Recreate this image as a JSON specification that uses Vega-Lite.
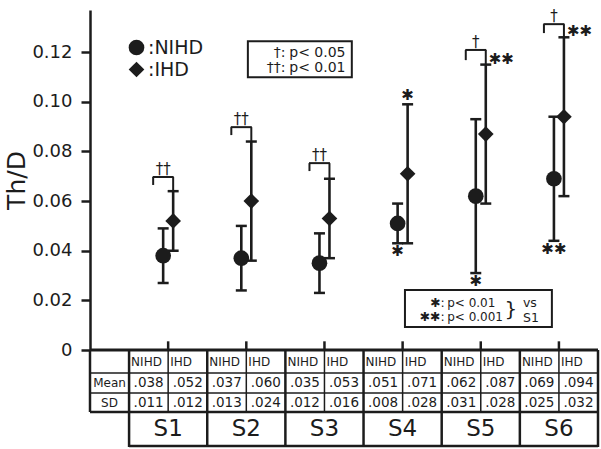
{
  "$schema": "https://vega.github.io/schema/vega-lite/v6.json",
  "background": "white",
  "autosize": "none",
  "width": 508,
  "height": 340,
  "padding": {"left": 90, "top": 10, "right": 3, "bottom": 99},
  "config": {"view": {"stroke": null}, "font": "DejaVu Sans", "text": {"color": "#1c1c1c", "font": "DejaVu Sans"}},
  "datasets": {
    "stats": [
      {"g": "S1", "s": "NIHD", "mean": 0.038, "sd": 0.011, "lo": 0.027, "hi": 0.049, "mt": ".038", "st": ".011"},
      {"g": "S1", "s": "IHD", "mean": 0.052, "sd": 0.012, "lo": 0.040, "hi": 0.064, "mt": ".052", "st": ".012"},
      {"g": "S2", "s": "NIHD", "mean": 0.037, "sd": 0.013, "lo": 0.024, "hi": 0.050, "mt": ".037", "st": ".013"},
      {"g": "S2", "s": "IHD", "mean": 0.060, "sd": 0.024, "lo": 0.036, "hi": 0.084, "mt": ".060", "st": ".024"},
      {"g": "S3", "s": "NIHD", "mean": 0.035, "sd": 0.012, "lo": 0.023, "hi": 0.047, "mt": ".035", "st": ".012"},
      {"g": "S3", "s": "IHD", "mean": 0.053, "sd": 0.016, "lo": 0.037, "hi": 0.069, "mt": ".053", "st": ".016"},
      {"g": "S4", "s": "NIHD", "mean": 0.051, "sd": 0.008, "lo": 0.043, "hi": 0.059, "mt": ".051", "st": ".008"},
      {"g": "S4", "s": "IHD", "mean": 0.071, "sd": 0.028, "lo": 0.043, "hi": 0.099, "mt": ".071", "st": ".028"},
      {"g": "S5", "s": "NIHD", "mean": 0.062, "sd": 0.031, "lo": 0.031, "hi": 0.093, "mt": ".062", "st": ".031"},
      {"g": "S5", "s": "IHD", "mean": 0.087, "sd": 0.028, "lo": 0.059, "hi": 0.115, "mt": ".087", "st": ".028"},
      {"g": "S6", "s": "NIHD", "mean": 0.069, "sd": 0.025, "lo": 0.044, "hi": 0.094, "mt": ".069", "st": ".025"},
      {"g": "S6", "s": "IHD", "mean": 0.094, "sd": 0.032, "lo": 0.062, "hi": 0.126, "mt": ".094", "st": ".032"}
    ],
    "groups": [{"g": "S1"}, {"g": "S2"}, {"g": "S3"}, {"g": "S4"}, {"g": "S5"}, {"g": "S6"}],
    "brackets": [
      {"g": "S1", "sig": "††", "top": 0.0697, "left": 0.0665, "right": 0.064},
      {"g": "S2", "sig": "††", "top": 0.0898, "left": 0.0866, "right": 0.084},
      {"g": "S3", "sig": "††", "top": 0.0753, "left": 0.0721, "right": 0.069},
      {"g": "S5", "sig": "†", "top": 0.1209, "left": 0.1168, "right": 0.115},
      {"g": "S6", "sig": "†", "top": 0.1313, "left": 0.1277, "right": 0.126}
    ],
    "above": [{"g": "S4", "s": "IHD", "y": 0.099, "txt": "✱"}],
    "below": [
      {"g": "S4", "s": "NIHD", "y": 0.043, "txt": "✱"},
      {"g": "S5", "s": "NIHD", "y": 0.031, "txt": "✱"},
      {"g": "S6", "s": "NIHD", "y": 0.044, "txt": "✱✱"}
    ],
    "right": [
      {"g": "S5", "s": "IHD", "y": 0.115, "txt": "✱✱"},
      {"g": "S6", "s": "IHD", "y": 0.126, "txt": "✱✱"}
    ],
    "one": [{}]
  },
  "resolve": {"scale": {"y": "independent", "xOffset": "independent"}},
  "layer": [
    {
      "layer": [
        {
          "data": {"name": "stats"},
          "mark": {"type": "rule", "strokeWidth": 2.6, "color": "#1c1c1c"},
          "encoding": {
            "x": {"field": "g", "type": "nominal", "axis": null, "scale": {"type": "band", "domain": ["S1", "S2", "S3", "S4", "S5", "S6"], "paddingInner": 0, "paddingOuter": 0.25, "align": 1}},
            "xOffset": {"field": "s", "type": "nominal", "scale": {"type": "point", "domain": ["BL", "NIHD", "IHD", "R"], "range": [24.08, 54.08], "padding": 0}},
            "y": {
              "field": "lo", "type": "quantitative", "title": "Th/D",
              "scale": {"domain": [0, 0.137], "nice": false, "zero": false},
              "axis": {
                "title": "Th/D", "values": [0, 0.02, 0.04, 0.06, 0.08, 0.1, 0.12],
                "labelExpr": "datum.value == 0 ? '0' : format(datum.value, '.2f')",
                "grid": false, "domainColor": "#1c1c1c", "domainWidth": 2.5,
                "tickColor": "#1c1c1c", "tickWidth": 2.5, "tickSize": 9,
                "labelFont": "DejaVu Sans", "labelFontSize": 18, "labelColor": "#1c1c1c", "labelPadding": 9,
                "titleFont": "DejaVu Sans", "titleFontSize": 25, "titleFontWeight": "normal", "titleColor": "#1c1c1c", "titlePadding": 2
              }
            },
            "y2": {"field": "hi"}
          }
        },
        {
          "data": {"name": "one"},
          "mark": {"type": "rule", "strokeWidth": 3, "color": "#1c1c1c"},
          "encoding": {"y": {"datum": 0, "type": "quantitative", "title": "Th/D"}}
        },
        {
          "data": {"name": "groups"},
          "mark": {"type": "rule", "strokeWidth": 2.5, "color": "#1c1c1c"},
          "encoding": {
            "x": {"field": "g", "type": "nominal", "axis": null},
            "y": {"datum": 0, "type": "quantitative", "title": "Th/D"},
            "y2": {"datum": 0.0035}
          }
        },
        {
          "data": {"name": "stats"},
          "mark": {"type": "tick", "size": 11, "thickness": 2.5, "color": "#1c1c1c", "opacity": 1},
          "encoding": {
            "x": {"field": "g", "type": "nominal", "axis": null},
            "xOffset": {"field": "s", "type": "nominal"},
            "y": {"field": "hi", "type": "quantitative", "title": "Th/D"}
          }
        },
        {
          "data": {"name": "stats"},
          "mark": {"type": "tick", "size": 11, "thickness": 2.5, "color": "#1c1c1c", "opacity": 1},
          "encoding": {
            "x": {"field": "g", "type": "nominal", "axis": null},
            "xOffset": {"field": "s", "type": "nominal"},
            "y": {"field": "lo", "type": "quantitative", "title": "Th/D"}
          }
        },
        {
          "data": {"name": "stats"},
          "mark": {"type": "point", "filled": true, "size": 245, "color": "#1c1c1c", "opacity": 1},
          "encoding": {
            "x": {"field": "g", "type": "nominal", "axis": null},
            "xOffset": {"field": "s", "type": "nominal"},
            "y": {"field": "mean", "type": "quantitative", "title": "Th/D"},
            "shape": {
              "field": "s", "type": "nominal",
              "scale": {"domain": ["NIHD", "IHD"], "range": ["circle", "diamond"]},
              "legend": {
                "title": null, "orient": "none", "legendX": 37, "legendY": 28,
                "labelExpr": "':' + datum.label", "labelFont": "DejaVu Sans", "labelFontSize": 19, "labelColor": "#1c1c1c",
                "symbolSize": 245, "symbolFillColor": "#1c1c1c", "symbolStrokeColor": "#1c1c1c", "symbolStrokeWidth": 0,
                "labelOffset": 2, "rowPadding": 2, "padding": 0
              }
            }
          }
        },
        {
          "data": {"name": "brackets"},
          "mark": {"type": "tick", "size": 21, "thickness": 2, "color": "#1c1c1c", "opacity": 1},
          "encoding": {
            "x": {"field": "g", "type": "nominal", "axis": null},
            "xOffset": {"datum": "NIHD", "type": "nominal"},
            "y": {"field": "top", "type": "quantitative", "title": "Th/D"}
          }
        },
        {
          "data": {"name": "brackets"},
          "mark": {"type": "rule", "strokeWidth": 2, "color": "#1c1c1c"},
          "encoding": {
            "x": {"field": "g", "type": "nominal", "axis": null},
            "xOffset": {"datum": "BL", "type": "nominal"},
            "y": {"field": "top", "type": "quantitative", "title": "Th/D"},
            "y2": {"field": "left"}
          }
        },
        {
          "data": {"name": "brackets"},
          "mark": {"type": "rule", "strokeWidth": 2, "color": "#1c1c1c"},
          "encoding": {
            "x": {"field": "g", "type": "nominal", "axis": null},
            "xOffset": {"datum": "IHD", "type": "nominal"},
            "y": {"field": "top", "type": "quantitative", "title": "Th/D"},
            "y2": {"field": "right"}
          }
        },
        {
          "data": {"name": "brackets"},
          "mark": {"type": "text", "fontSize": 15, "baseline": "alphabetic", "dy": -3, "align": "center", "color": "#1c1c1c"},
          "encoding": {
            "x": {"field": "g", "type": "nominal", "axis": null},
            "xOffset": {"datum": "NIHD", "type": "nominal"},
            "y": {"field": "top", "type": "quantitative", "title": "Th/D"},
            "text": {"field": "sig"}
          }
        },
        {
          "data": {"name": "above"},
          "mark": {"type": "text", "fontSize": 15, "baseline": "bottom", "dy": -1, "align": "center", "color": "#1c1c1c"},
          "encoding": {
            "x": {"field": "g", "type": "nominal", "axis": null},
            "xOffset": {"field": "s", "type": "nominal"},
            "y": {"field": "y", "type": "quantitative", "title": "Th/D"},
            "text": {"field": "txt"}
          }
        },
        {
          "data": {"name": "below"},
          "mark": {"type": "text", "fontSize": 15, "baseline": "top", "dy": 1, "align": "center", "color": "#1c1c1c"},
          "encoding": {
            "x": {"field": "g", "type": "nominal", "axis": null},
            "xOffset": {"field": "s", "type": "nominal"},
            "y": {"field": "y", "type": "quantitative", "title": "Th/D"},
            "text": {"field": "txt"}
          }
        },
        {
          "data": {"name": "right"},
          "mark": {"type": "text", "fontSize": 15, "baseline": "middle", "dy": -6, "dx": 3, "align": "left", "color": "#1c1c1c"},
          "encoding": {
            "x": {"field": "g", "type": "nominal", "axis": null},
            "xOffset": {"field": "s", "type": "nominal"},
            "y": {"field": "y", "type": "quantitative", "title": "Th/D"},
            "text": {"field": "txt"}
          }
        },
        {
          "data": {"name": "one"},
          "mark": {"type": "rect", "fill": null, "fillOpacity": 0, "stroke": "#1c1c1c", "strokeWidth": 2},
          "encoding": {
            "x": {"datum": "S2", "type": "nominal", "bandPosition": 0.52, "axis": null},
            "x2": {"datum": "S3", "bandPosition": 0.85},
            "y": {"datum": 0.1244, "type": "quantitative", "title": "Th/D"},
            "y2": {"datum": 0.1099}
          }
        },
        {
          "data": {"name": "one"},
          "mark": {"type": "text", "fontSize": 14, "align": "right", "baseline": "middle", "lineHeight": 15, "color": "#1c1c1c"},
          "encoding": {
            "x": {"datum": "S3", "type": "nominal", "bandPosition": 0.0, "axis": null},
            "y": {"datum": 0.1197, "type": "quantitative", "title": "Th/D"},
            "text": {"value": ["†:", "††:"]}
          }
        },
        {
          "data": {"name": "one"},
          "mark": {"type": "text", "fontSize": 14, "align": "left", "baseline": "middle", "lineHeight": 15, "color": "#1c1c1c"},
          "encoding": {
            "x": {"datum": "S3", "type": "nominal", "bandPosition": 0.05, "axis": null},
            "y": {"datum": 0.1197, "type": "quantitative", "title": "Th/D"},
            "text": {"value": ["p< 0.05", "p< 0.01"]}
          }
        },
        {
          "data": {"name": "one"},
          "mark": {"type": "rect", "fill": null, "fillOpacity": 0, "stroke": "#1c1c1c", "strokeWidth": 2},
          "encoding": {
            "x": {"datum": "S4", "type": "nominal", "bandPosition": 0.53, "axis": null},
            "x2": {"datum": "S6", "bandPosition": 0.41},
            "y": {"datum": 0.0242, "type": "quantitative", "title": "Th/D"},
            "y2": {"datum": 0.0093}
          }
        },
        {
          "data": {"name": "one"},
          "mark": {"type": "text", "fontSize": 12.5, "align": "right", "baseline": "middle", "lineHeight": 14, "color": "#1c1c1c"},
          "encoding": {
            "x": {"datum": "S5", "type": "nominal", "bandPosition": 0.04, "axis": null},
            "y": {"datum": 0.0189, "type": "quantitative", "title": "Th/D"},
            "text": {"value": ["✱:", "✱✱:"]}
          }
        },
        {
          "data": {"name": "one"},
          "mark": {"type": "text", "fontSize": 12, "align": "left", "baseline": "middle", "lineHeight": 14, "color": "#1c1c1c"},
          "encoding": {
            "x": {"datum": "S5", "type": "nominal", "bandPosition": 0.07, "axis": null},
            "y": {"datum": 0.0189, "type": "quantitative", "title": "Th/D"},
            "text": {"value": ["p< 0.01", "p< 0.001"]}
          }
        },
        {
          "data": {"name": "one"},
          "mark": {"type": "text", "fontSize": 20, "align": "center", "baseline": "middle", "color": "#1c1c1c"},
          "encoding": {
            "x": {"datum": "S5", "type": "nominal", "bandPosition": 0.885, "axis": null},
            "y": {"datum": 0.0161, "type": "quantitative", "title": "Th/D"},
            "text": {"value": "}"}
          }
        },
        {
          "data": {"name": "one"},
          "mark": {"type": "text", "fontSize": 12.5, "align": "left", "baseline": "middle", "color": "#1c1c1c"},
          "encoding": {
            "x": {"datum": "S5", "type": "nominal", "bandPosition": 1.04, "axis": null},
            "y": {"datum": 0.0191, "type": "quantitative", "title": "Th/D"},
            "text": {"value": "vs"}
          }
        },
        {
          "data": {"name": "one"},
          "mark": {"type": "text", "fontSize": 12.5, "align": "left", "baseline": "middle", "color": "#1c1c1c"},
          "encoding": {
            "x": {"datum": "S5", "type": "nominal", "bandPosition": 1.04, "axis": null},
            "y": {"datum": 0.0130, "type": "quantitative", "title": "Th/D"},
            "text": {"value": "S1"}
          }
        }
      ]
    },
    {
      "layer": [
        {
          "data": {"name": "one"},
          "mark": {"type": "rule", "strokeWidth": 1.5, "color": "#1c1c1c"},
          "encoding": {
            "y": {"datum": 1.15, "type": "quantitative", "axis": null, "scale": {"domain": [-17, 0], "reverse": true, "nice": false, "zero": false}}
          }
        },
        {
          "data": {"name": "one"},
          "mark": {"type": "rule", "strokeWidth": 1.5, "color": "#1c1c1c"},
          "encoding": {"y": {"datum": 2.15, "type": "quantitative", "axis": null}}
        },
        {
          "data": {"name": "one"},
          "mark": {"type": "rule", "strokeWidth": 2.5, "color": "#1c1c1c"},
          "encoding": {"y": {"datum": 3.1, "type": "quantitative", "axis": null}}
        },
        {
          "data": {"name": "one"},
          "mark": {"type": "rule", "strokeWidth": 2.5, "color": "#1c1c1c"},
          "encoding": {
            "x": {"datum": "S1", "type": "nominal", "bandPosition": 0, "axis": null},
            "x2": {"datum": "S6", "bandPosition": 1},
            "y": {"datum": 4.8, "type": "quantitative", "axis": null}
          }
        },
        {
          "data": {"name": "groups"},
          "mark": {"type": "rule", "strokeWidth": 2.5, "color": "#1c1c1c"},
          "encoding": {
            "x": {"field": "g", "type": "nominal", "bandPosition": 0, "axis": null},
            "y": {"datum": 0, "type": "quantitative", "axis": null},
            "y2": {"datum": 4.85}
          }
        },
        {
          "data": {"name": "one"},
          "mark": {"type": "rule", "strokeWidth": 2.5, "color": "#1c1c1c"},
          "encoding": {
            "x": {"datum": "S6", "type": "nominal", "bandPosition": 1, "axis": null},
            "y": {"datum": 0, "type": "quantitative", "axis": null},
            "y2": {"datum": 4.85}
          }
        },
        {
          "data": {"name": "one"},
          "mark": {"type": "rule", "strokeWidth": 2.5, "color": "#1c1c1c"},
          "encoding": {
            "x": {"datum": "S1", "type": "nominal", "bandPosition": -0.5, "axis": null},
            "y": {"datum": 0, "type": "quantitative", "axis": null},
            "y2": {"datum": 3.1}
          }
        },
        {
          "data": {"name": "groups"},
          "mark": {"type": "rule", "strokeWidth": 1.5, "color": "#1c1c1c"},
          "encoding": {
            "x": {"field": "g", "type": "nominal", "bandPosition": 0.5, "axis": null},
            "y": {"datum": 0, "type": "quantitative", "axis": null},
            "y2": {"datum": 3.1}
          }
        },
        {
          "data": {"name": "stats"},
          "mark": {"type": "text", "fontSize": 12, "align": "left", "dx": -17.5, "baseline": "middle", "color": "#1c1c1c"},
          "encoding": {
            "x": {"field": "g", "type": "nominal", "axis": null},
            "xOffset": {"field": "s", "type": "nominal", "scale": {"type": "band", "domain": ["NIHD", "IHD"], "paddingInner": 0, "paddingOuter": 0}},
            "y": {"datum": 0.6, "type": "quantitative", "axis": null},
            "text": {"field": "s"}
          }
        },
        {
          "data": {"name": "stats"},
          "mark": {"type": "text", "fontSize": 13.5, "align": "center", "baseline": "middle", "color": "#1c1c1c"},
          "encoding": {
            "x": {"field": "g", "type": "nominal", "axis": null},
            "xOffset": {"field": "s", "type": "nominal"},
            "y": {"datum": 1.65, "type": "quantitative", "axis": null},
            "text": {"field": "mt"}
          }
        },
        {
          "data": {"name": "stats"},
          "mark": {"type": "text", "fontSize": 13.5, "align": "center", "baseline": "middle", "color": "#1c1c1c"},
          "encoding": {
            "x": {"field": "g", "type": "nominal", "axis": null},
            "xOffset": {"field": "s", "type": "nominal"},
            "y": {"datum": 2.63, "type": "quantitative", "axis": null},
            "text": {"field": "st"}
          }
        },
        {
          "data": {"name": "one"},
          "mark": {"type": "text", "fontSize": 12, "align": "center", "baseline": "middle", "color": "#1c1c1c"},
          "encoding": {
            "x": {"datum": "S1", "type": "nominal", "bandPosition": -0.25, "axis": null},
            "y": {"datum": 1.65, "type": "quantitative", "axis": null},
            "text": {"value": "Mean"}
          }
        },
        {
          "data": {"name": "one"},
          "mark": {"type": "text", "fontSize": 12, "align": "center", "baseline": "middle", "color": "#1c1c1c"},
          "encoding": {
            "x": {"datum": "S1", "type": "nominal", "bandPosition": -0.25, "axis": null},
            "y": {"datum": 2.63, "type": "quantitative", "axis": null},
            "text": {"value": "SD"}
          }
        },
        {
          "data": {"name": "groups"},
          "mark": {"type": "text", "fontSize": 23, "align": "center", "baseline": "middle", "color": "#1c1c1c"},
          "encoding": {
            "x": {"field": "g", "type": "nominal", "axis": null},
            "y": {"datum": 3.97, "type": "quantitative", "axis": null},
            "text": {"field": "g"}
          }
        }
      ]
    }
  ]
}
